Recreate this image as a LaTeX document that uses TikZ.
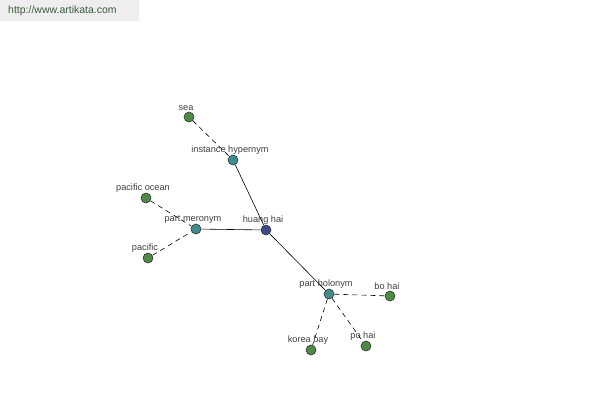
\documentclass[tikz,border=0pt]{standalone}
\usepackage{fontspec}
\setmainfont{Liberation Sans}
\begin{document}
\begin{tikzpicture}[x=1pt,y=-1pt,
  dot/.style={circle,draw=black!80,line width=0.6pt,minimum size=10pt,inner sep=0pt},
  leaf/.style={dot,fill=leafgreen},
  rel/.style={dot,fill=relteal},
  root/.style={dot,fill=rootblue},
  lbl/.style={font=\fontsize{9.2}{10}\selectfont,text=black!75,inner sep=0pt,xshift=-3pt},
  every label/.style={lbl},
  label distance=0.5pt,
  solidedge/.style={draw=black,line width=0.6pt},
  dashedge/.style={draw=black,line width=0.6pt,dash pattern=on 5pt off 4pt}]
\definecolor{leafgreen}{HTML}{4E8A45}
\definecolor{relteal}{HTML}{3E8C8C}
\definecolor{rootblue}{HTML}{3C4A8C}
\definecolor{hdrbg}{HTML}{EEEEEE}
\definecolor{hdrtext}{HTML}{3D5A3D}
\useasboundingbox (0,0) rectangle (600,400);
\fill[white] (0,0) rectangle (600,400);
\node[fill=hdrbg,minimum width=139pt,minimum height=21pt,anchor=north west,inner sep=0pt] (hdr) at (0,0) {};
\node[font=\fontsize{10.5}{12}\selectfont,text=hdrtext,anchor=west,inner sep=0pt] (url) at (8,11) {http://www.artikata.com};
% nodes
\node[root,label={90:huang hai}] (hh) at (266,230) {};
\node[rel,label={90:instance hypernym}] (ih) at (233,160) {};
\node[rel,label={90:part meronym}] (pm) at (196,229) {};
\node[rel,label={90:part holonym}] (ph) at (329,294) {};
\node[leaf,label={90:sea}] (sea) at (189,117) {};
\node[leaf,label={90:pacific ocean}] (po) at (146,198) {};
\node[leaf,label={90:pacific}] (pac) at (148,258) {};
\node[leaf,label={90:bo hai}] (bo) at (390,296) {};
\node[leaf,label={90:korea bay}] (kb) at (311,350) {};
\node[leaf,label={90:po hai}] (poh) at (366,346) {};
% edges
\path[solidedge] (hh) -- (ih);
\path[solidedge] (hh) -- (pm);
\path[solidedge] (hh) -- (ph);
\path[dashedge] (sea) -- (ih);
\path[dashedge] (po) -- (pm);
\path[dashedge] (pac) -- (pm);
\path[dashedge] (ph) -- (bo);
\path[dashedge] (ph) -- (kb);
\path[dashedge] (ph) -- (poh);
\end{tikzpicture}
\end{document}
